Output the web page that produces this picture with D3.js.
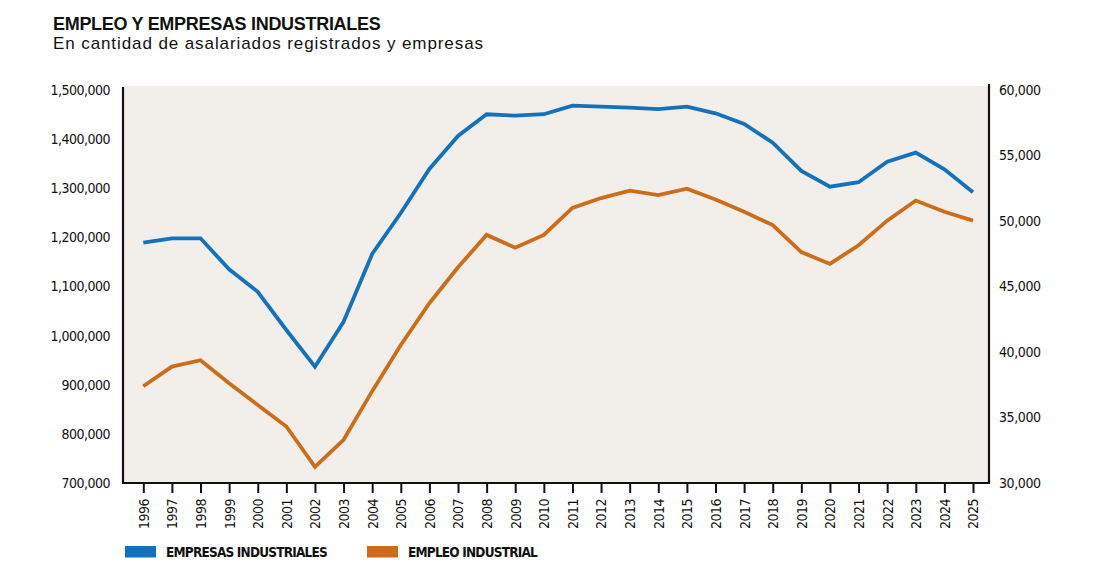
<!DOCTYPE html>
<html>
<head>
<meta charset="utf-8">
<script src="https://cdn.jsdelivr.net/npm/d3@7"></script>
<style>
  html, body { margin: 0; padding: 0; background: #fff; }
  svg { display: block; }
  .narrow { font-family: "Liberation Sans Narrow", "DejaVu Sans Condensed", "Roboto", sans-serif; }
</style>
</head>
<body>
<svg id="chart" width="1101" height="573"></svg>
<script>
// Years on the x axis
const years = [1996, 1997, 1998, 1999, 2000, 2001, 2002, 2003, 2004, 2005,
  2006, 2007, 2008, 2009, 2010, 2011, 2012, 2013, 2014, 2015,
  2016, 2017, 2018, 2019, 2020, 2021, 2022, 2023, 2024, 2025];

// Empresas industriales (right axis)
const empresas = [48350, 48680, 48680, 46310, 44600, 41680, 38880, 42310, 47480, 50610,
  53970, 56490, 58150, 58040, 58150, 58800, 58730, 58650, 58540, 58730,
  58220, 57410, 55980, 53820, 52620, 52960, 54530, 55220, 53950, 52190];

// Empleo industrial, asalariados registrados (left axis)
const empleo = [897000, 937000, 950000, 903000, 859000, 815000, 733000, 788000, 887000, 981000,
  1066000, 1139000, 1205000, 1179000, 1205000, 1260000, 1280000, 1295000, 1286000, 1299000,
  1277000, 1252000, 1225000, 1170000, 1146000, 1184000, 1234000, 1275000, 1252000, 1234000];

const leftTicks = [700000, 800000, 900000, 1000000, 1100000, 1200000, 1300000, 1400000, 1500000];
const rightTicks = [30000, 35000, 40000, 45000, 50000, 55000, 60000];

const title = "EMPLEO Y EMPRESAS INDUSTRIALES";
const subtitle = "En cantidad de asalariados registrados y empresas";
const legendItems = [
  { label: "EMPRESAS INDUSTRIALES", color: "#1372bb" },
  { label: "EMPLEO INDUSTRIAL", color: "#cd6d1b" }
];

const svg = d3.select('#chart');

// plot frame
const plot = { left: 123, right: 989, top: 86, bottom: 483 };

svg.append('rect')
  .attr('x', plot.left)
  .attr('y', plot.top)
  .attr('width', plot.right - plot.left)
  .attr('height', plot.bottom - plot.top)
  .attr('fill', '#f2efeb');

// scales
const x = d3.scalePoint()
  .domain(years)
  .range([143.3, 973]);

const yLeft = d3.scaleLinear()
  .domain([700000, 1500000])
  .range([plot.bottom, 90]);

const yRight = d3.scaleLinear()
  .domain([30000, 60000])
  .range([plot.bottom, 90]);

const fmt = d3.format(',');

// left axis
svg.append('g')
  .attr('class', 'narrow')
  .attr('transform', `translate(${plot.left},0)`)
  .call(d3.axisLeft(yLeft).tickValues(leftTicks).tickSize(0).tickPadding(13).tickFormat(fmt))
  .call(g => g.select('.domain').remove())
  .call(g => g.selectAll('text')
    .attr('font-size', 14)
    .attr('letter-spacing', -0.5)
    .attr('fill', '#111')
    .attr('font-family', null));

// right axis
svg.append('g')
  .attr('class', 'narrow')
  .attr('transform', `translate(${plot.right},0)`)
  .call(d3.axisRight(yRight).tickValues(rightTicks).tickSize(0).tickPadding(10).tickFormat(fmt))
  .call(g => g.select('.domain').remove())
  .call(g => g.selectAll('text')
    .attr('font-size', 14)
    .attr('letter-spacing', -0.4)
    .attr('fill', '#111')
    .attr('font-family', null));

// bottom axis with rotated years
svg.append('g')
  .attr('class', 'narrow')
  .attr('transform', `translate(0,${plot.bottom})`)
  .call(d3.axisBottom(x).tickSize(10).tickPadding(0).tickSizeOuter(0))
  .call(g => g.select('.domain').remove())
  .call(g => g.selectAll('.tick line')
    .attr('stroke', '#111')
    .attr('stroke-width', 2))
  .call(g => g.selectAll('text')
    .attr('font-size', 14)
    .attr('letter-spacing', -0.5)
    .attr('fill', '#111')
    .attr('font-family', null)
    .attr('transform', 'rotate(-90)')
    .attr('text-anchor', 'end')
    .attr('x', -16)
    .attr('y', 0)
    .attr('dy', '0.35em'));

// frame lines (left, bottom, right)
svg.append('path')
  .attr('d', `M${plot.left},${plot.top + 1}V${plot.bottom}H${plot.right}V${plot.top - 2}`)
  .attr('fill', 'none')
  .attr('stroke', '#111')
  .attr('stroke-width', 2.2);

// lines
const lineRight = d3.line()
  .x((d, i) => x(years[i]))
  .y(d => yRight(d));

const lineLeft = d3.line()
  .x((d, i) => x(years[i]))
  .y(d => yLeft(d));

svg.append('path')
  .datum(empresas)
  .attr('d', lineRight)
  .attr('fill', 'none')
  .attr('stroke', legendItems[0].color)
  .attr('stroke-width', 3.8)
  .attr('stroke-linejoin', 'miter');

svg.append('path')
  .datum(empleo)
  .attr('d', lineLeft)
  .attr('fill', 'none')
  .attr('stroke', legendItems[1].color)
  .attr('stroke-width', 3.8)
  .attr('stroke-linejoin', 'miter');

// title
svg.append('text')
  .attr('x', 53)
  .attr('y', 30)
  .attr('font-family', 'Liberation Sans, Arial, sans-serif')
  .attr('font-weight', 'bold')
  .attr('font-size', 18)
  .attr('letter-spacing', -0.3)
  .attr('fill', '#111')
  .text(title);

svg.append('text')
  .attr('x', 53)
  .attr('y', 48.5)
  .attr('font-family', 'Liberation Sans, Arial, sans-serif')
  .attr('font-size', 17)
  .attr('textLength', 430)
  .attr('lengthAdjust', 'spacing')
  .attr('fill', '#111')
  .text(subtitle);

// legend
const legendX = [125, 367];
const legend = svg.append('g').attr('class', 'narrow');
legendItems.forEach((item, i) => {
  legend.append('rect')
    .attr('x', legendX[i])
    .attr('y', 546)
    .attr('width', 31)
    .attr('height', 11.5)
    .attr('fill', item.color);
  legend.append('text')
    .attr('x', legendX[i] + 41)
    .attr('y', 557.3)
    .attr('font-size', 13.5)
    .attr('font-weight', 'bold')
    .attr('letter-spacing', -0.8)
    .attr('fill', '#111')
    .text(item.label);
});
</script>
</body>
</html>
